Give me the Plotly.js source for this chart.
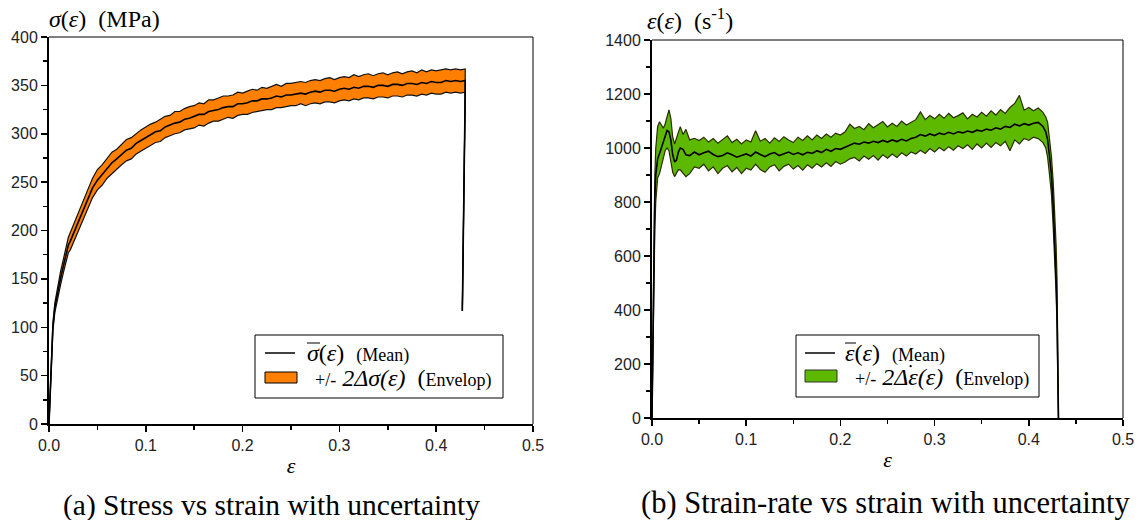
<!DOCTYPE html>
<html><head><meta charset="utf-8">
<script src="https://cdn.plot.ly/plotly-3.0.1.min.js"></script>
<style>html,body{margin:0;padding:0;background:#fff}#chart{width:1140px;height:520px}</style>
</head><body><div id="chart"></div>
<script>
// ---------- (a) stress vs strain ----------
const strainA = [0, 0.001, 0.002, 0.003, 0.004, 0.006, 0.008, 0.010, 0.012, 0.015, 0.018, 0.020, 0.022,
  0.025, 0.030, 0.035, 0.040, 0.045, 0.050, 0.055, 0.060, 0.065, 0.070, 0.075, 0.080, 0.085, 0.090, 0.095, 0.100,
  0.105, 0.110, 0.115, 0.120, 0.125, 0.130, 0.135, 0.140, 0.145, 0.150, 0.155, 0.160, 0.165, 0.170, 0.175, 0.180,
  0.185, 0.190, 0.195, 0.200, 0.205, 0.210, 0.215, 0.220, 0.225, 0.230, 0.235, 0.240, 0.245, 0.250, 0.255, 0.260,
  0.265, 0.270, 0.275, 0.280, 0.285, 0.290, 0.295, 0.300, 0.305, 0.310, 0.315, 0.320, 0.325, 0.330, 0.335, 0.340,
  0.345, 0.350, 0.355, 0.360, 0.365, 0.370, 0.375, 0.380, 0.385, 0.390, 0.395, 0.400, 0.405, 0.410, 0.415, 0.420,
  0.425, 0.430, 0.4298, 0.4290, 0.4280, 0.4270];
const stressMean = [0, 30, 55, 80, 100, 120, 131, 142, 151, 164, 177, 185, 189,
  196, 207, 219, 232, 244, 252, 258, 264, 270, 274, 278, 283, 285, 290, 293, 296,
  299, 302, 303, 307, 309, 311, 312, 315, 316, 318, 320, 320, 323, 324, 325, 327,
  328, 328, 331, 331, 332, 334, 334, 336, 336, 337, 339, 338, 340, 340, 341, 342,
  341, 343, 344, 343, 345, 345, 344, 346, 347, 346, 348, 347, 349, 349, 348, 350,
  350, 349, 351, 351, 350, 352, 352, 351, 353, 352, 354, 353, 353, 355, 354, 355,
  354, 355, 330, 250, 180, 117];
const stressUpper = [0, 31, 57, 83, 104, 125, 137, 148, 158, 171, 185, 193, 198,
  205, 217, 229, 242, 254, 263, 268, 275, 281, 284, 289, 294, 296, 300, 304, 307,
  310, 312, 315, 318, 319, 323, 323, 326, 328, 329, 332, 331, 335, 335, 337, 339,
  339, 340, 343, 342, 344, 346, 345, 348, 347, 349, 351, 349, 352, 352, 353, 354,
  353, 355, 356, 355, 357, 358, 356, 358, 359, 358, 361, 359, 361, 362, 360, 362,
  363, 361, 363, 364, 362, 364, 365, 363, 366, 364, 366, 365, 366, 367, 366, 367,
  366, 367, 330, 250, 180, 117];
const stressLower = [0, 29, 53, 77, 96, 115, 125, 136, 144, 157, 169, 177, 180,
  187, 197, 209, 222, 234, 242, 247, 254, 259, 263, 268, 272, 274, 279, 282, 285,
  288, 291, 292, 296, 298, 300, 301, 304, 305, 306, 309, 308, 311, 313, 313, 315,
  317, 316, 319, 320, 320, 322, 323, 324, 325, 325, 327, 327, 328, 329, 329, 331,
  329, 331, 332, 331, 333, 333, 332, 334, 335, 334, 336, 335, 337, 337, 336, 338,
  338, 337, 339, 339, 338, 340, 340, 339, 341, 340, 342, 341, 341, 343, 342, 343,
  342, 343, 330, 250, 180, 117];

// ---------- (b) strain-rate vs strain ----------
const strainB = [0, 0.001, 0.002, 0.003, 0.004, 0.005, 0.006, 0.008, 0.010, 0.012, 0.014, 0.016, 0.018, 0.020,
  0.022, 0.024, 0.026, 0.028, 0.030, 0.033, 0.036, 0.040, 0.045,
  0.050, 0.055, 0.060, 0.065, 0.070, 0.075, 0.080, 0.085, 0.090, 0.095, 0.100, 0.105, 0.110, 0.115, 0.120, 0.125,
  0.130, 0.135, 0.140, 0.145, 0.150, 0.155, 0.160, 0.165, 0.170, 0.175, 0.180, 0.185, 0.190, 0.195, 0.200, 0.205,
  0.210, 0.215, 0.220, 0.225, 0.230, 0.235, 0.240, 0.245, 0.250, 0.255, 0.260, 0.265, 0.270, 0.275, 0.280, 0.285,
  0.290, 0.295, 0.300, 0.305, 0.310, 0.315, 0.320, 0.325, 0.330, 0.335, 0.340, 0.345, 0.350, 0.355, 0.360, 0.365,
  0.370, 0.375, 0.380, 0.385, 0.390, 0.395, 0.400, 0.405, 0.410, 0.415,
  0.418, 0.420, 0.422, 0.424, 0.426, 0.428, 0.429, 0.430, 0.4305, 0.431, 0.4315];
const rateMean = [0, 300, 600, 820, 900, 940, 960, 980, 1000, 1020, 1045, 1065, 1060, 1030,
  975, 948, 955, 985, 1000, 995, 975, 972, 985,
  975, 982, 988, 976, 968, 972, 982, 975, 966, 972, 978, 970, 985, 976, 968, 978,
  983, 972, 978, 985, 976, 982, 975, 984, 980, 990, 983, 995, 988, 998, 995, 1003,
  1012, 1018, 1014, 1022, 1018, 1025, 1020, 1028, 1022, 1030, 1024, 1032, 1026, 1035, 1040, 1050,
  1044, 1052, 1046, 1055, 1050, 1058, 1052, 1060, 1056, 1063, 1058, 1066, 1062, 1070, 1066, 1075,
  1070, 1080, 1076, 1088, 1082, 1090, 1085, 1092, 1095, 1080,
  1060, 1030, 970, 900, 780, 630, 510, 380, 264, 120, 0];
const rateUpper = [0, 350, 700, 900, 1000, 1050, 1080, 1097, 1085, 1073, 1090, 1120, 1141, 1110,
  1040, 1015, 1035, 1060, 1079, 1050, 1069, 1030, 1036,
  1028, 1040, 1022, 1035, 1018, 1030, 1045, 1020, 1032, 1015, 1030, 1022, 1064, 1025, 1035, 1018,
  1038, 1024, 1042, 1030, 1020, 1040, 1028, 1045, 1030, 1048, 1035, 1052, 1040, 1055, 1048, 1060,
  1088, 1072, 1080, 1068, 1090, 1075, 1085, 1098, 1078, 1092, 1080, 1100, 1085, 1095, 1105, 1134,
  1105, 1120, 1108, 1125, 1110, 1128, 1112, 1120, 1130, 1108, 1125, 1115, 1132, 1118, 1138, 1122,
  1142, 1128, 1150, 1165, 1195, 1140, 1150, 1138, 1148, 1132,
  1115, 1095, 1040, 970, 870, 740, 640, 510, 380, 200, 0];
const rateLower = [0, 250, 480, 700, 800, 870, 890, 905, 935, 965, 990, 1000, 990, 950,
  910, 894, 905, 920, 919, 905, 894, 905, 930,
  925, 940, 915, 930, 905, 925, 935, 912, 928, 905, 925, 918, 940, 920, 910, 930,
  938, 915, 932, 940, 922, 935, 918, 938, 925, 942, 930, 945, 932, 950, 940, 948,
  960, 965, 952, 970, 958, 972, 955, 975, 962, 978, 965, 982, 970, 985, 978, 992,
  980, 998, 985, 1002, 990, 1005, 992, 1008, 998, 1012, 995, 1015, 1000, 1018, 1002, 1020,
  1008, 1025, 990, 1030, 1015, 1035, 1028, 1040, 1035, 1020,
  1000, 965, 900, 830, 700, 560, 460, 330, 220, 90, 0];

const xTickVals = [0, 0.1, 0.2, 0.3, 0.4, 0.5];
const xTickText = ['0.0', '0.1', '0.2', '0.3', '0.4', '0.5'];

// ---------- styling ----------
const W = 1140, H = 520;
const PX = p => p / W, PY = p => 1 - p / H;
const serif = 'Liberation Serif, Times New Roman, serif';
const sans = 'Liberation Sans, Arial, sans-serif';
const ORANGE = '#FF7F00', GREEN = '#5DB800';

function envTraces(x, lo, hi, mean, fill, edge, xa, ya, nm) {
  return [
    {x: x, y: lo, xaxis: xa, yaxis: ya, mode: 'lines', name: nm + ' lower', line: {color: edge, width: 1.2}, showlegend: false, hoverinfo: 'skip'},
    {x: x, y: hi, xaxis: xa, yaxis: ya, mode: 'lines', name: nm + ' envelop', fill: 'tonexty', fillcolor: fill, line: {color: edge, width: 1.2}, showlegend: false, hoverinfo: 'skip'},
    {x: x, y: mean, xaxis: xa, yaxis: ya, mode: 'lines', name: nm + ' mean', line: {color: '#000', width: 1.6}, showlegend: false}
  ];
}
const data = [].concat(
  envTraces(strainA, stressLower, stressUpper, stressMean, ORANGE, '#111', 'x', 'y', 'stress'),
  envTraces(strainB, rateLower, rateUpper, rateMean, GREEN, '#2b2b00', 'x2', 'y2', 'strain rate')
);

function xAxis(domain, anchor) {
  return {domain: domain, anchor: anchor, range: [0, 0.5], tickvals: xTickVals, ticktext: xTickText,
    ticks: 'outside', ticklen: 6, tickwidth: 1.5, tickcolor: '#000',
    minor: {dtick: 0.05, ticks: 'outside', ticklen: 4, tickwidth: 1.5, tickcolor: '#000', showgrid: false},
    showline: true, linewidth: 2, linecolor: '#000', showgrid: false, zeroline: false,
    tickfont: {family: sans, size: 16, color: '#222'},
    title: {text: '<i>ε</i>', font: {family: serif, size: 22, color: '#000'}, standoff: 4}, automargin: false};
}
function yAxis(domain, anchor, max, dt) {
  return {domain: domain, anchor: anchor, range: [0, max], dtick: dt,
    ticks: 'outside', ticklen: 6, tickwidth: 1.5, tickcolor: '#000',
    minor: {dtick: dt / 2, ticks: 'outside', ticklen: 4, tickwidth: 1.5, tickcolor: '#000', showgrid: false},
    showline: true, linewidth: 2, linecolor: '#000', showgrid: false, zeroline: false,
    tickfont: {family: sans, size: 16, color: '#222'}, automargin: false};
}

const shapes = [
  // frame top/right lines
  {type: 'line', xref: 'x domain', yref: 'y domain', x0: 0, x1: 1, y0: 1, y1: 1, line: {color: '#000', width: 1}},
  {type: 'line', xref: 'x domain', yref: 'y domain', x0: 1, x1: 1, y0: 0, y1: 1, line: {color: '#000', width: 1}},
  {type: 'line', xref: 'x2 domain', yref: 'y2 domain', x0: 0, x1: 1, y0: 1, y1: 1, line: {color: '#000', width: 1}},
  {type: 'line', xref: 'x2 domain', yref: 'y2 domain', x0: 1, x1: 1, y0: 0, y1: 1, line: {color: '#000', width: 1}},
  // legend (a)
  {type: 'rect', xref: 'paper', yref: 'paper', x0: PX(255), x1: PX(503), y0: PY(335), y1: PY(398), line: {color: '#000', width: 1}, fillcolor: '#fff'},
  {type: 'line', xref: 'paper', yref: 'paper', x0: PX(265), x1: PX(295), y0: PY(353), y1: PY(353), line: {color: '#000', width: 1.5}},
  {type: 'rect', xref: 'paper', yref: 'paper', x0: PX(265), x1: PX(297), y0: PY(372), y1: PY(383), line: {color: '#000', width: 1}, fillcolor: ORANGE},
  // overline on sigma (mean symbol)
  {type: 'line', xref: 'paper', yref: 'paper', x0: PX(307), x1: PX(320), y0: PY(343), y1: PY(343), line: {color: '#000', width: 1}},
  // legend (b)
  {type: 'rect', xref: 'paper', yref: 'paper', x0: PX(796), x1: PX(1039), y0: PY(335), y1: PY(397), line: {color: '#000', width: 1}, fillcolor: '#fff'},
  {type: 'line', xref: 'paper', yref: 'paper', x0: PX(805), x1: PX(835), y0: PY(353), y1: PY(353), line: {color: '#000', width: 1.5}},
  {type: 'rect', xref: 'paper', yref: 'paper', x0: PX(805), x1: PX(837), y0: PY(370), y1: PY(382), line: {color: '#333', width: 1}, fillcolor: GREEN},
  // overline on epsilon (mean symbol)
  {type: 'line', xref: 'paper', yref: 'paper', x0: PX(845), x1: PX(856), y0: PY(343), y1: PY(343), line: {color: '#000', width: 1}},
  // dot above epsilon (rate symbol)
  {type: 'circle', xref: 'paper', yref: 'paper', x0: PX(909.5), x1: PX(911.8), y0: PY(367.3), y1: PY(365), line: {width: 0}, fillcolor: '#000'}
];

function ann(x, y, text, size, xanchor) {
  return {xref: 'paper', yref: 'paper', x: PX(x), y: PY(y), text: text, showarrow: false,
    xanchor: xanchor || 'left', yanchor: 'middle', font: {family: serif, size: size, color: '#000'}};
}
const S = t => '<span style="font-size:18px">' + t + '</span>';
const annotations = [
  ann(47, 19, '<i>σ</i>(<i>ε</i>)  (MPa)', 24),
  ann(645, 19, '<i>ε</i>(<i>ε</i>)  (s<sup>-1</sup>)', 24),
  ann(305, 353, '<i>σ</i>(<i>ε</i>)  ' + S('(Mean)'), 24),
  ann(313, 378, S('+/-') + ' <i>2Δσ(ε)</i>  (' + S('Envelop)'), 24),
  ann(843, 353, '<i>ε</i>(<i>ε</i>)  ' + S('(Mean)'), 24),
  ann(853, 377, S('+/-') + ' <i>2Δε(ε)</i>  (' + S('Envelop)'), 24),
  ann(271, 505, '(a) Stress vs strain with uncertainty', 29.5, 'center'),
  ann(885, 503, '(b) Strain-rate vs strain with uncertainty', 30.5, 'center')
];

const layout = {
  width: W, height: H, margin: {l: 0, r: 0, t: 0, b: 0},
  paper_bgcolor: '#fff', plot_bgcolor: '#fff', showlegend: false,
  xaxis: xAxis([PX(49), PX(533)], 'y'),
  yaxis: yAxis([PY(424), PY(37)], 'x', 400, 50),
  xaxis2: xAxis([PX(652), PX(1123)], 'y2'),
  yaxis2: yAxis([PY(418), PY(40)], 'x2', 1400, 200),
  shapes: shapes, annotations: annotations
};
Plotly.newPlot('chart', data, layout, {staticPlot: true, displayModeBar: false});
</script>
</body></html>
